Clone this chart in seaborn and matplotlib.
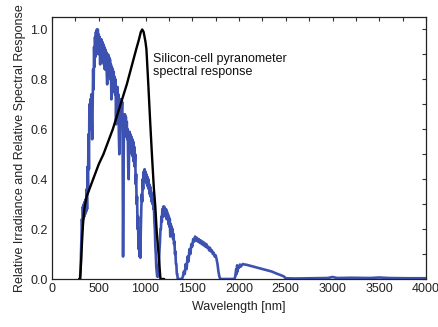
import numpy as np
import pandas as pd
import matplotlib
matplotlib.use("Agg")
import matplotlib.pyplot as plt
from matplotlib.ticker import MultipleLocator
import seaborn as sns

# Solar spectrum (relative irradiance), 300-1345 nm in 5 nm steps, then coarser
sun_wl = [300, 305, 310, 315, 320, 325, 330, 335, 340, 345,
          350, 355, 360, 365, 370, 375, 380, 385, 390, 395,
          400, 405, 410, 415, 420, 425, 430, 435, 440, 445,
          450, 455, 460, 465, 470, 475, 480, 485, 490, 495,
          500, 505, 510, 515, 520, 525, 530, 535, 540, 545,
          550, 555, 560, 565, 570, 575, 580, 585, 590, 595,
          600, 605, 610, 615, 620, 625, 630, 635, 640, 645,
          650, 655, 660, 665, 670, 675, 680, 685, 690, 695,
          700, 705, 710, 715, 720, 725, 730, 735, 740, 745,
          750, 755, 760, 765, 770, 775, 780, 785, 790, 795,
          800, 805, 810, 815, 820, 825, 830, 835, 840, 845,
          850, 855, 860, 865, 870, 875, 880, 885, 890, 895,
          900, 905, 910, 915, 920, 925, 930, 935, 940, 945,
          950, 955, 960, 965, 970, 975, 980, 985, 990, 995,
          1000, 1005, 1010, 1015, 1020, 1025, 1030, 1035, 1040, 1045,
          1050, 1055, 1060, 1065, 1070, 1075, 1080, 1085, 1090, 1095,
          1100, 1105, 1110, 1115, 1120, 1125, 1130, 1135, 1140, 1145,
          1150, 1155, 1160, 1165, 1170, 1175, 1180, 1185, 1190, 1195,
          1200, 1205, 1210, 1215, 1220, 1225, 1230, 1235, 1240, 1245,
          1250, 1255, 1260, 1265, 1270, 1275, 1280, 1285, 1290, 1295,
          1300, 1305, 1310, 1315, 1320, 1325, 1330, 1335, 1340, 1345,
          1360, 1390, 1400, 1410, 1420, 1430, 1440, 1450, 1460, 1470,
          1480, 1490, 1500, 1510, 1520, 1530, 1540, 1550, 1560, 1570,
          1580, 1590, 1600, 1610, 1620, 1630, 1640, 1650, 1660, 1670,
          1680, 1690, 1700, 1710, 1720, 1730, 1740, 1750, 1760, 1770,
          1780, 1790, 1800, 1950, 1960, 1970, 1975, 1980, 1985, 1990,
          2000, 2010, 2020, 2040, 2060, 2080, 2100, 2150, 2200, 2250,
          2300, 2350, 2400, 2450, 2480, 2500, 2600, 2800, 2950, 3000,
          3050, 3200, 3400, 3500, 3600, 3800, 4000]
sun_val = [0.00, 0.03, 0.10, 0.18, 0.24, 0.20, 0.29, 0.24, 0.30, 0.25,
           0.31, 0.26, 0.32, 0.27, 0.36, 0.28, 0.45, 0.35, 0.58, 0.44,
           0.70, 0.60, 0.72, 0.63, 0.74, 0.64, 0.56, 0.70, 0.84, 0.76,
           0.93, 0.85, 0.97, 0.89, 0.99, 0.90, 1.00, 0.91, 1.00, 0.92,
           0.98, 0.90, 0.97, 0.86, 0.96, 0.89, 0.96, 0.88, 0.95, 0.87,
           0.94, 0.86, 0.93, 0.84, 0.92, 0.84, 0.91, 0.83, 0.78, 0.85,
           0.90, 0.82, 0.89, 0.81, 0.88, 0.80, 0.86, 0.72, 0.85, 0.78,
           0.84, 0.76, 0.83, 0.75, 0.81, 0.74, 0.80, 0.62, 0.76, 0.70,
           0.77, 0.69, 0.74, 0.58, 0.50, 0.62, 0.72, 0.65, 0.72, 0.65,
           0.71, 0.55, 0.09, 0.35, 0.66, 0.60, 0.66, 0.59, 0.65, 0.57,
           0.63, 0.56, 0.60, 0.45, 0.40, 0.52, 0.59, 0.52, 0.58, 0.51,
           0.57, 0.50, 0.56, 0.49, 0.55, 0.47, 0.53, 0.45, 0.50, 0.38,
           0.42, 0.30, 0.33, 0.20, 0.25, 0.12, 0.18, 0.09, 0.15, 0.085,
           0.20, 0.28, 0.34, 0.31, 0.40, 0.36, 0.43, 0.39, 0.44, 0.40,
           0.43, 0.39, 0.42, 0.38, 0.41, 0.37, 0.40, 0.36, 0.38, 0.34,
           0.37, 0.33, 0.35, 0.31, 0.34, 0.30, 0.32, 0.28, 0.29, 0.23,
           0.20, 0.13, 0.10, 0.05, 0.03, 0.01, 0.02, 0.01, 0.04, 0.07,
           0.12, 0.15, 0.20, 0.20, 0.25, 0.23, 0.28, 0.25, 0.29, 0.26,
           0.29, 0.26, 0.28, 0.25, 0.28, 0.24, 0.27, 0.24, 0.26, 0.22,
           0.25, 0.21, 0.24, 0.17, 0.22, 0.19, 0.21, 0.18, 0.20, 0.16,
           0.18, 0.14, 0.15, 0.10, 0.11, 0.06, 0.06, 0.02, 0.02, 0.00,
           0.00, 0.00, 0.01, 0.03, 0.02, 0.06, 0.04, 0.09, 0.07, 0.12,
           0.10, 0.14, 0.13, 0.16, 0.15, 0.17, 0.155, 0.165, 0.15, 0.16,
           0.145, 0.155, 0.14, 0.15, 0.135, 0.145, 0.13, 0.14, 0.125, 0.13,
           0.115, 0.125, 0.11, 0.115, 0.10, 0.105, 0.09, 0.095, 0.08, 0.06,
           0.03, 0.01, 0.00, 0.00, 0.01, 0.04, 0.02, 0.055, 0.03, 0.05,
           0.045, 0.058, 0.05, 0.06, 0.058, 0.057, 0.055, 0.05, 0.045, 0.04,
           0.035, 0.03, 0.022, 0.015, 0.01, 0.003, 0.002, 0.003, 0.004, 0.008,
           0.004, 0.005, 0.004, 0.006, 0.004, 0.003, 0.003]

# Silicon-cell pyranometer spectral response
si_wl = [290, 300, 310, 320, 330, 340, 350, 370, 400, 450, 500, 550, 600, 650, 700, 750, 800, 850, 900,
         930, 950, 965, 980, 1000, 1010, 1030, 1050, 1070, 1090, 1105, 1120, 1140, 1160, 1200]
si_val = [0.0, 0.0, 0.06, 0.14, 0.21, 0.26, 0.29, 0.33, 0.36, 0.41, 0.46, 0.50, 0.55, 0.60, 0.66, 0.72, 0.78, 0.85, 0.92,
          0.96, 0.99, 1.0, 0.99, 0.95, 0.92, 0.78, 0.63, 0.49, 0.36, 0.29, 0.19, 0.10, 0.0, 0.0]

x_ticks = [0, 500, 1000, 1500, 2000, 2500, 3000, 3500, 4000]
y_ticks = [0.0, 0.2, 0.4, 0.6, 0.8, 1.0]

n = min(len(sun_wl), len(sun_val))

sns.set_theme(style="white")
plt.rcParams['font.family'] = ['Liberation Sans', 'DejaVu Sans']

fig = plt.figure(figsize=(4.38, 3.27), dpi=100)
ax = fig.add_axes([52/438, 1-279/327, (426-52)/438, (279-17)/327])

sun_df = pd.DataFrame({"wl": sun_wl[:n], "val": sun_val[:n]})
si_df = pd.DataFrame({"wl": si_wl, "val": si_val})
sns.lineplot(data=sun_df, x="wl", y="val", ax=ax, color="#3d52b0", lw=1.9, estimator=None, sort=False)
sns.lineplot(data=si_df, x="wl", y="val", ax=ax, color="black", lw=1.7, estimator=None, sort=False)

ax.set_xlim(0, 4000)
ax.set_ylim(0, 1.05)
ax.set_xticks(x_ticks)
ax.set_yticks(y_ticks)
ax.set_yticklabels([f"{v:.1f}" for v in y_ticks])
ax.xaxis.set_minor_locator(MultipleLocator(250))
ax.yaxis.set_minor_locator(MultipleLocator(0.1))
ax.tick_params(which='both', direction='in', top=True, right=True, length=3, width=0.8,
               labelsize=9, labelcolor='#222222', color='#333333', pad=3)
for s in ax.spines.values():
    s.set_color('#222222')
    s.set_linewidth(0.9)
ax.set_xlabel("Wavelength [nm]", fontsize=9, color='#222222', labelpad=4)
ax.set_ylabel("Relative Irradiance and Relative Spectral Response", fontsize=9, color='#222222', labelpad=3)

ax.text(1083, 0.855, "Silicon-cell pyranometer\nspectral response", fontsize=9, color='#111111',
        va='center', ha='left', linespacing=1.1)

fig.savefig("out.png", dpi=100)
